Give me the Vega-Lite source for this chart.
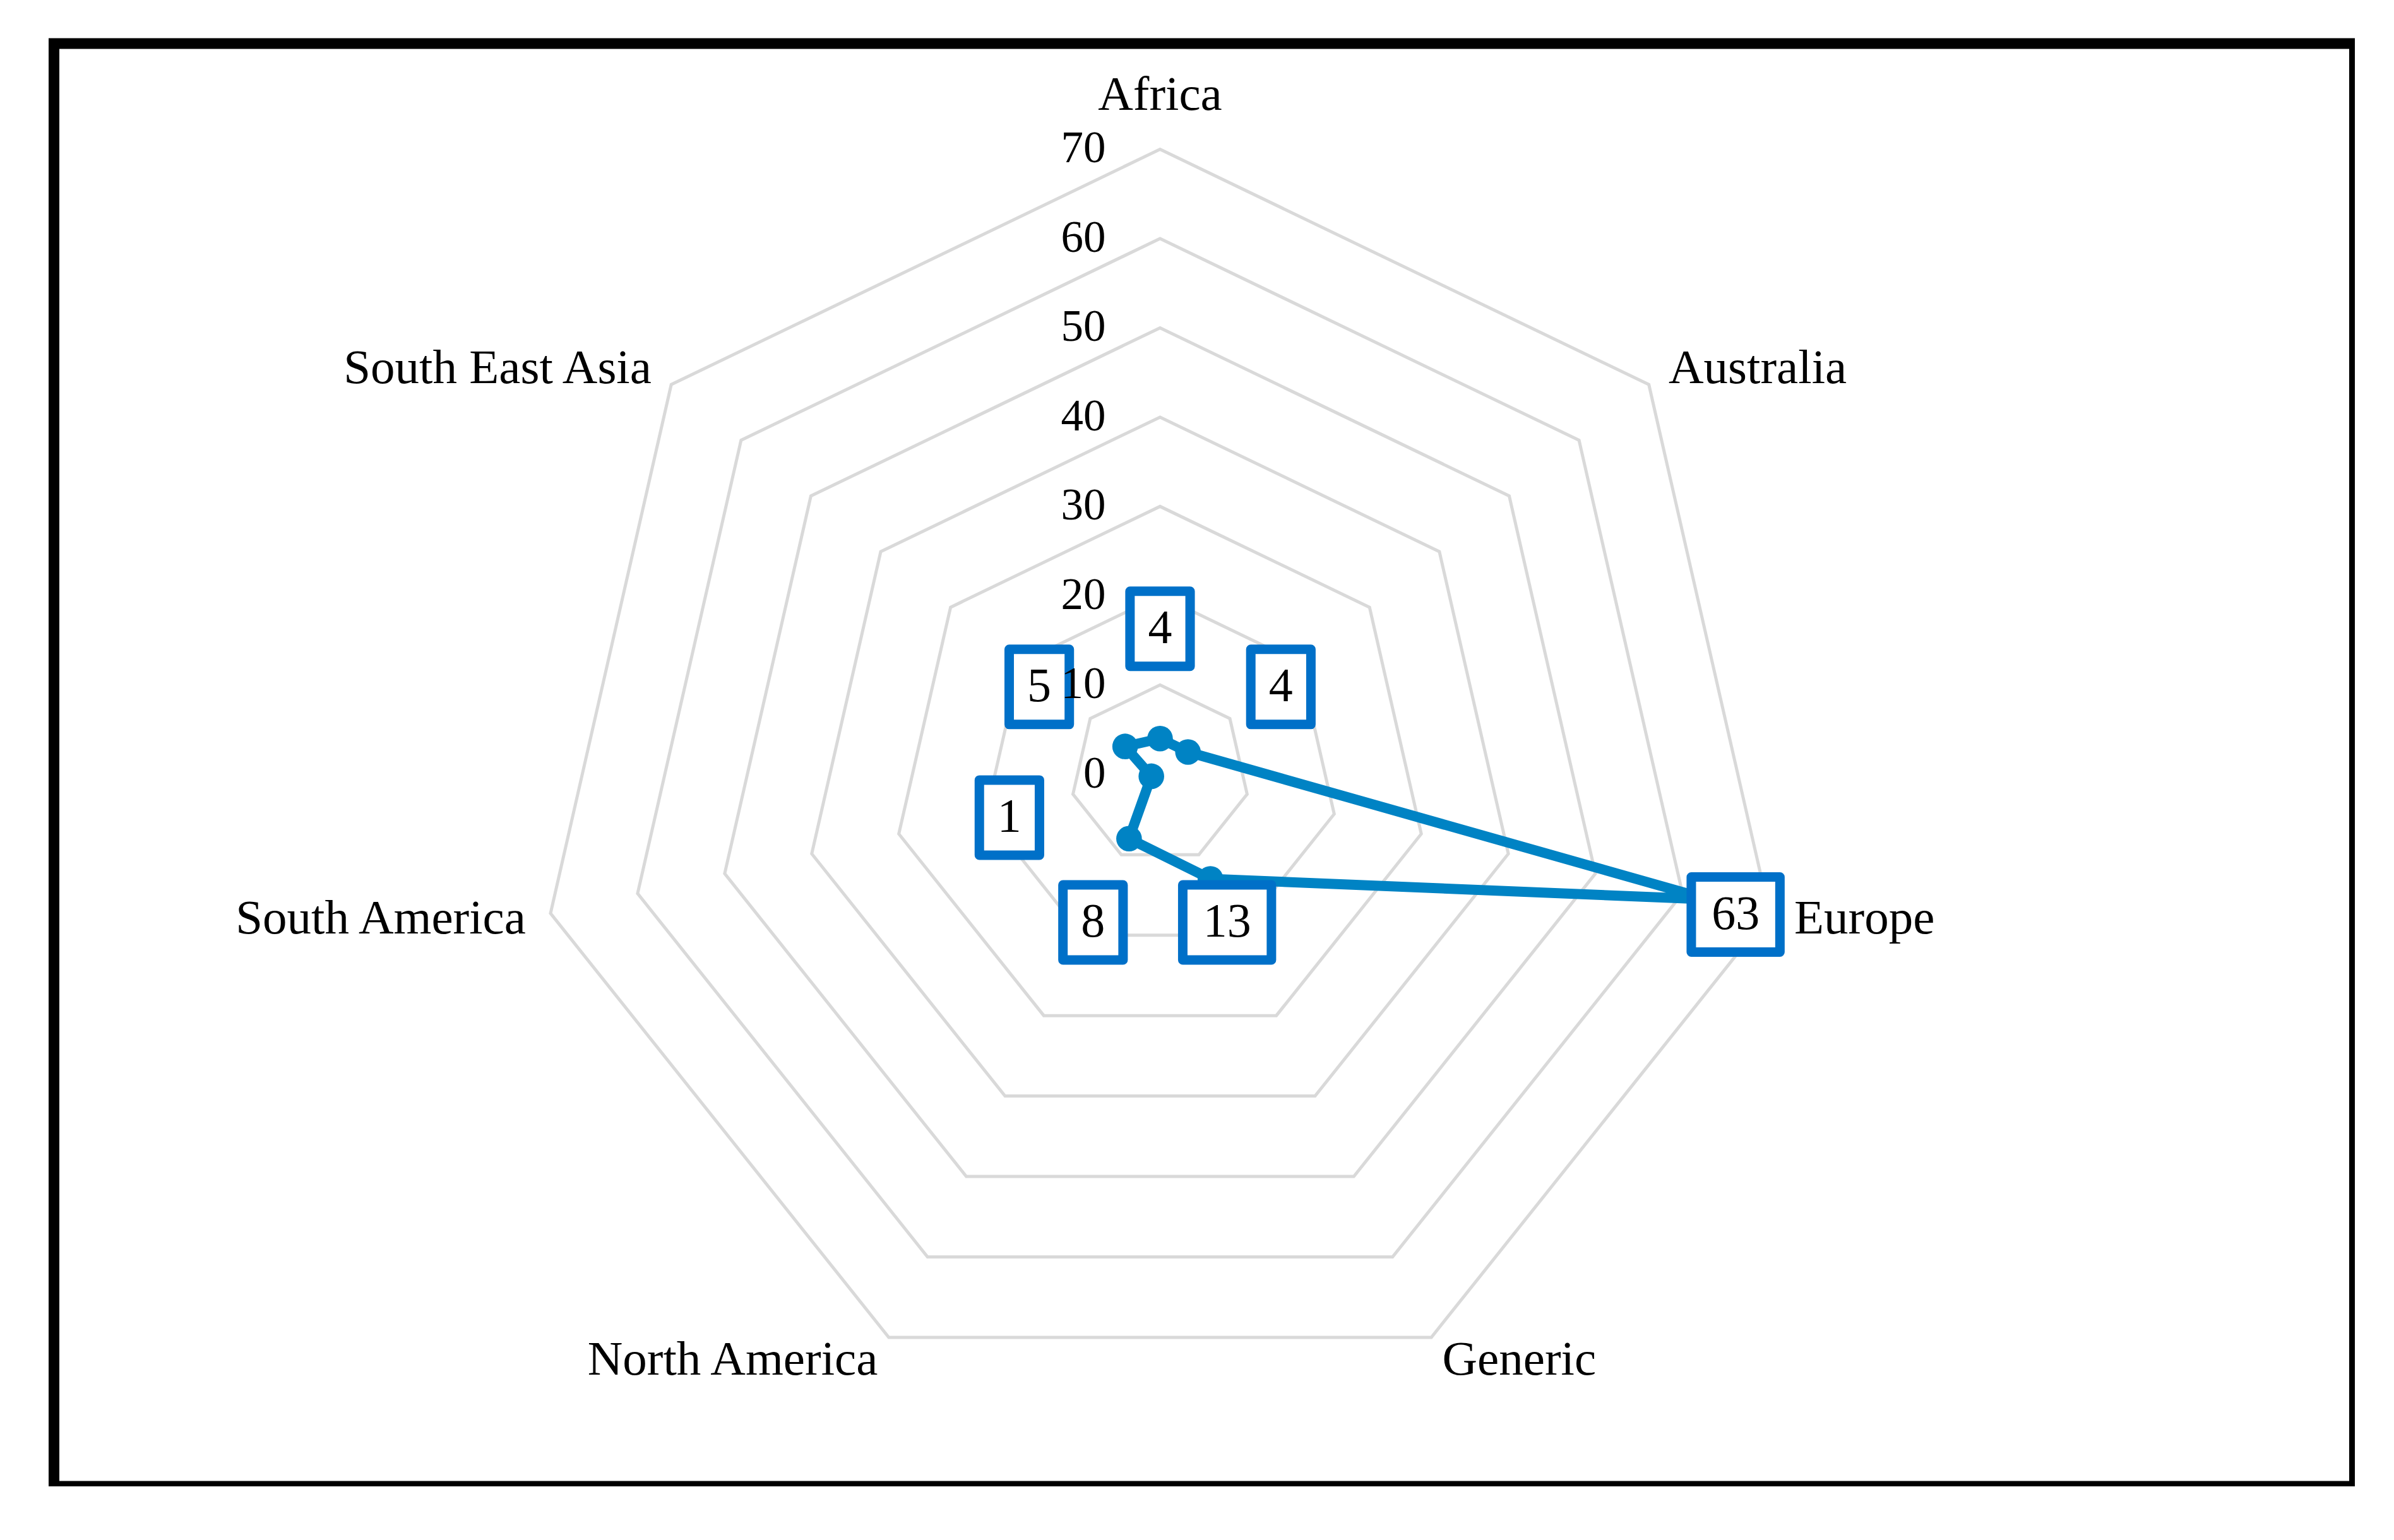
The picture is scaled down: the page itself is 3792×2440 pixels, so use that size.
{
  "$schema": "https://vega.github.io/schema/vega-lite/v6.json",
  "width": 3644,
  "height": 2286,
  "autosize": {"type": "none"},
  "padding": {"left": 85.5, "top": 69, "right": 0, "bottom": 0},
  "background": "white",
  "config": {"view": {"stroke": "#000000", "strokeWidth": 17}, "font": "Liberation Serif"},
  "datasets": {
    "regions": [
      {"region": "Africa", "value": 4},
      {"region": "Australia", "value": 4},
      {"region": "Europe", "value": 63},
      {"region": "Generic", "value": 13},
      {"region": "North America", "value": 8},
      {"region": "South America", "value": 1},
      {"region": "South East Asia", "value": 5}
    ],
    "ticks": [
      {"level": 0}, {"level": 10}, {"level": 20}, {"level": 30},
      {"level": 40}, {"level": 50}, {"level": 60}, {"level": 70}
    ]
  },
  "layer": [
    {
      "data": {"name": "regions"},
      "transform": [
        {"window": [{"op": "row_number", "as": "idx"}]},
        {"calculate": "(datum.idx - 1) * 2 * PI / 7", "as": "theta"},
        {"calculate": "[10,20,30,40,50,60,70]", "as": "ring"},
        {"flatten": ["ring"]},
        {"calculate": "datum.ring * sin(datum.theta)", "as": "gx"},
        {"calculate": "datum.ring * cos(datum.theta)", "as": "gy"}
      ],
      "mark": {"type": "line", "interpolate": "linear-closed", "stroke": "#D9D9D9", "strokeWidth": 5},
      "encoding": {
        "x": {"field": "gx", "type": "quantitative", "scale": {"domain": [-123.84, 133.74], "nice": false, "zero": false}, "axis": null},
        "y": {"field": "gy", "type": "quantitative", "scale": {"domain": [-79.75, 81.84], "nice": false, "zero": false}, "axis": null},
        "detail": {"field": "ring", "type": "nominal"},
        "order": {"field": "idx", "type": "quantitative"}
      }
    },
    {
      "data": {"name": "regions"},
      "transform": [
        {"window": [{"op": "row_number", "as": "idx"}]},
        {"calculate": "(datum.idx - 1) * 2 * PI / 7", "as": "theta"},
        {"calculate": "datum.value * sin(datum.theta)", "as": "px"},
        {"calculate": "datum.value * cos(datum.theta)", "as": "py"}
      ],
      "mark": {"type": "line", "interpolate": "linear-closed", "stroke": "#0083C4", "strokeWidth": 16, "strokeJoin": "round", "strokeCap": "round"},
      "encoding": {
        "x": {"field": "px", "type": "quantitative", "scale": {"domain": [-123.84, 133.74], "nice": false, "zero": false}, "axis": null},
        "y": {"field": "py", "type": "quantitative", "scale": {"domain": [-79.75, 81.84], "nice": false, "zero": false}, "axis": null},
        "order": {"field": "idx", "type": "quantitative"}
      }
    },
    {
      "data": {"name": "regions"},
      "transform": [
        {"window": [{"op": "row_number", "as": "idx"}]},
        {"calculate": "(datum.idx - 1) * 2 * PI / 7", "as": "theta"},
        {"calculate": "datum.value * sin(datum.theta)", "as": "px"},
        {"calculate": "datum.value * cos(datum.theta)", "as": "py"}
      ],
      "mark": {"type": "circle", "size": 1650, "color": "#0083C4", "opacity": 1},
      "encoding": {
        "x": {"field": "px", "type": "quantitative", "scale": {"domain": [-123.84, 133.74], "nice": false, "zero": false}, "axis": null},
        "y": {"field": "py", "type": "quantitative", "scale": {"domain": [-79.75, 81.84], "nice": false, "zero": false}, "axis": null}
      }
    },
    {
      "data": {"name": "regions"},
      "transform": [
        {"window": [{"op": "row_number", "as": "idx"}]},
        {"calculate": "(datum.idx - 1) * 2 * PI / 7", "as": "theta"},
        {"calculate": "max(datum.value + 3.1, 17.3)", "as": "lr"},
        {"calculate": "datum.lr * sin(datum.theta)", "as": "lx"},
        {"calculate": "datum.lr * cos(datum.theta) - 1", "as": "ly"},
        {"calculate": "datum.value >= 10 ? 'two' : 'one'", "as": "digits"}
      ],
      "mark": {"type": "point", "filled": true, "fill": "white", "stroke": "#0070C8", "strokeWidth": 15, "strokeJoin": "round", "size": 14161, "opacity": 1, "fillOpacity": 1, "strokeOpacity": 1},
      "encoding": {
        "x": {"field": "lx", "type": "quantitative", "scale": {"domain": [-123.84, 133.74], "nice": false, "zero": false}, "axis": null},
        "y": {"field": "ly", "type": "quantitative", "scale": {"domain": [-79.75, 81.84], "nice": false, "zero": false}, "axis": null},
        "shape": {"field": "digits", "type": "nominal", "scale": {"domain": ["one", "two"], "range": ["M-0.8,-1H0.8V1H-0.8Z", "M-1.18,-1H1.18V1H-1.18Z"]}, "legend": null}
      }
    },
    {
      "data": {"name": "regions"},
      "transform": [
        {"window": [{"op": "row_number", "as": "idx"}]},
        {"calculate": "(datum.idx - 1) * 2 * PI / 7", "as": "theta"},
        {"calculate": "max(datum.value + 3.1, 17.3)", "as": "lr"},
        {"calculate": "datum.lr * sin(datum.theta)", "as": "lx"},
        {"calculate": "datum.lr * cos(datum.theta) - 1", "as": "ly"}
      ],
      "mark": {"type": "text", "fontSize": 76, "align": "center", "baseline": "middle", "color": "#000000", "font": "Liberation Serif"},
      "encoding": {
        "x": {"field": "lx", "type": "quantitative", "scale": {"domain": [-123.84, 133.74], "nice": false, "zero": false}, "axis": null},
        "y": {"field": "ly", "type": "quantitative", "scale": {"domain": [-79.75, 81.84], "nice": false, "zero": false}, "axis": null},
        "text": {"field": "value", "type": "quantitative"}
      }
    },
    {
      "data": {"name": "ticks"},
      "mark": {"type": "text", "fontSize": 71, "align": "right", "baseline": "middle", "dx": -86, "color": "#000000", "font": "Liberation Serif"},
      "encoding": {
        "x": {"datum": 0, "type": "quantitative", "scale": {"domain": [-123.84, 133.74], "nice": false, "zero": false}, "axis": null},
        "y": {"field": "level", "type": "quantitative", "scale": {"domain": [-79.75, 81.84], "nice": false, "zero": false}, "axis": null},
        "text": {"field": "level", "type": "quantitative"}
      }
    },
    {
      "data": {"name": "regions"},
      "transform": [
        {"window": [{"op": "row_number", "as": "idx"}]},
        {"calculate": "(datum.idx - 1) * 2 * PI / 7", "as": "theta"},
        {"calculate": "72.83 * sin(datum.theta)", "as": "cx"},
        {"calculate": "72.83 * cos(datum.theta)", "as": "cy"},
        {"filter": "sin(datum.theta) > 0.1"}
      ],
      "mark": {"type": "text", "fontSize": 77, "align": "left", "baseline": "middle", "color": "#000000", "font": "Liberation Serif"},
      "encoding": {
        "x": {"field": "cx", "type": "quantitative", "scale": {"domain": [-123.84, 133.74], "nice": false, "zero": false}, "axis": null},
        "y": {"field": "cy", "type": "quantitative", "scale": {"domain": [-79.75, 81.84], "nice": false, "zero": false}, "axis": null},
        "text": {"field": "region", "type": "nominal"}
      }
    },
    {
      "data": {"name": "regions"},
      "transform": [
        {"window": [{"op": "row_number", "as": "idx"}]},
        {"calculate": "(datum.idx - 1) * 2 * PI / 7", "as": "theta"},
        {"calculate": "72.83 * sin(datum.theta)", "as": "cx"},
        {"calculate": "72.83 * cos(datum.theta)", "as": "cy"},
        {"filter": "sin(datum.theta) < -0.1"}
      ],
      "mark": {"type": "text", "fontSize": 77, "align": "right", "baseline": "middle", "color": "#000000", "font": "Liberation Serif"},
      "encoding": {
        "x": {"field": "cx", "type": "quantitative", "scale": {"domain": [-123.84, 133.74], "nice": false, "zero": false}, "axis": null},
        "y": {"field": "cy", "type": "quantitative", "scale": {"domain": [-79.75, 81.84], "nice": false, "zero": false}, "axis": null},
        "text": {"field": "region", "type": "nominal"}
      }
    },
    {
      "data": {"name": "regions"},
      "transform": [
        {"window": [{"op": "row_number", "as": "idx"}]},
        {"calculate": "(datum.idx - 1) * 2 * PI / 7", "as": "theta"},
        {"calculate": "72.83 * sin(datum.theta)", "as": "cx"},
        {"calculate": "72.83 * cos(datum.theta)", "as": "cy"},
        {"filter": "abs(sin(datum.theta)) <= 0.1"}
      ],
      "mark": {"type": "text", "fontSize": 77, "align": "center", "baseline": "alphabetic", "dy": -22, "color": "#000000", "font": "Liberation Serif"},
      "encoding": {
        "x": {"field": "cx", "type": "quantitative", "scale": {"domain": [-123.84, 133.74], "nice": false, "zero": false}, "axis": null},
        "y": {"field": "cy", "type": "quantitative", "scale": {"domain": [-79.75, 81.84], "nice": false, "zero": false}, "axis": null},
        "text": {"field": "region", "type": "nominal"}
      }
    }
  ]
}
